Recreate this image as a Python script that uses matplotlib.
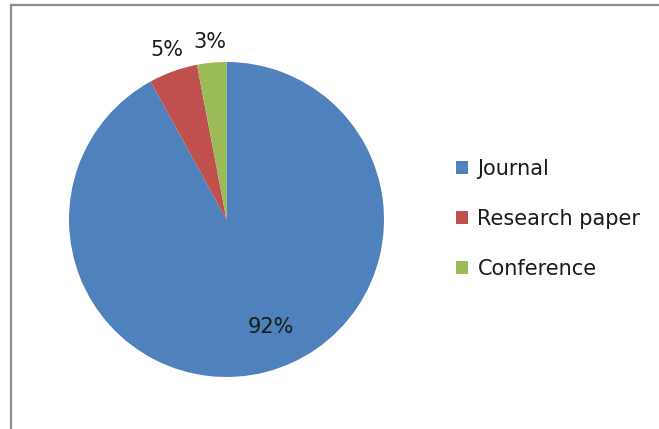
import matplotlib
matplotlib.use("Agg")
import matplotlib.pyplot as plt
from matplotlib.lines import Line2D
import numpy as np

categories = ["Journal", "Research paper", "Conference"]
values = [92, 5, 3]
colors = ["#4F81BD", "#C0504D", "#9BBB59"]
pct_labels = ["92%", "5%", "3%"]

W, H = 659, 429
fig = plt.figure(figsize=(W / 100, H / 100), dpi=100)
fig.patch.set_facecolor("white")

# pie axes (pixel geometry)
cx, cy, r = 226.5, 219.5, 157.5
ax = fig.add_axes([(cx - r) / W, (H - cy - r) / H, 2 * r / W, 2 * r / H])
wedges, _ = ax.pie(values, colors=colors, startangle=90, counterclock=False,
                   radius=1.0, wedgeprops=dict(linewidth=0))
ax.set_xlim(-1, 1)
ax.set_ylim(-1, 1)
ax.set_aspect("auto")
ax.axis("off")

txtcol = "#1a1a1a"
fs = 15
# label positions (relative to radius)
label_pos = [(0.283, -0.683), (-0.378, 1.076), (-0.105, 1.127)]
for (x, y), t in zip(label_pos, pct_labels):
    ax.text(x, y, t, ha="center", va="center", fontsize=fs, color=txtcol,
            clip_on=False)

leg = fig.legend(wedges, categories, loc="center left",
                 bbox_to_anchor=(456 / W, (H - 219) / H),
                 frameon=False, fontsize=fs, handlelength=0.58,
                 handleheight=0.58, handletextpad=0.45, labelspacing=1.45,
                 borderpad=0, borderaxespad=0)
for t in leg.get_texts():
    t.set_color(txtcol)

# chart frame (left and top edges)
fc = "#8c8c8c"
fig.add_artist(Line2D([11 / W, 11 / W], [0, (H - 5) / H], color=fc, lw=1.6,
                      transform=fig.transFigure))
fig.add_artist(Line2D([11 / W, 1], [(H - 5) / H, (H - 5) / H], color=fc, lw=1.6,
                      transform=fig.transFigure))

fig.savefig("out.png", dpi=100)
